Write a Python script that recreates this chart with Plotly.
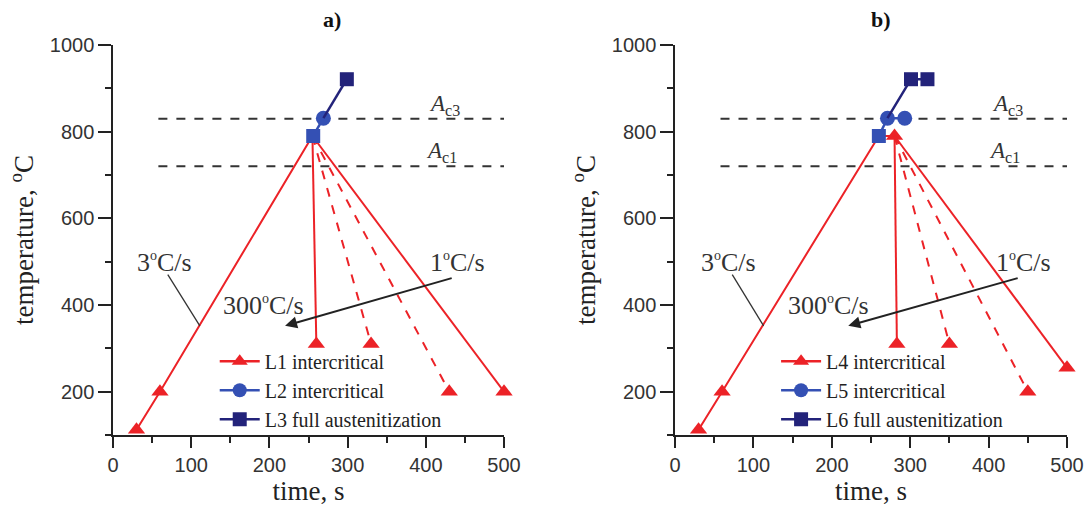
import plotly.graph_objects as go

# ---------------- data ----------------
# Panel a
heat_a_t = [30, 60, 255]
heat_a_T = [112, 200, 790]
cool_a_t0, cool_a_T0 = 255, 790
cool_a_end_t = [260, 330, 430, 500]
cool_a_end_T = [310, 310, 200, 200]
cool_a_dash = ["solid", "dash", "dash", "solid"]
L2_t = [256, 269]
L2_T = [790, 831]
L3_t = [269, 299]
L3_T = [831, 921]

# Panel b
heat_b_t = [30, 60, 260, 280]
heat_b_T = [112, 200, 790, 790]
cool_b_t0, cool_b_T0 = 280, 790
cool_b_end_t = [283, 350, 450, 500]
cool_b_end_T = [310, 310, 200, 255]
cool_b_dash = ["solid", "dash", "dash", "solid"]
L5_t = [260, 271, 293]
L5_T = [790, 831, 831]
L6_t = [271, 301, 322]
L6_T = [831, 921, 921]

Ac3 = 830
Ac1 = 720
Ac_t = [58, 500]

legend_a = ["L1 intercritical", "L2 intercritical", "L3 full austenitization"]
legend_b = ["L4 intercritical", "L5 intercritical", "L6 full austenitization"]

RED = "#ec2227"
BLUE = "#3450b4"
NAVY = "#23237a"
SERIF = "Liberation Serif"
SANS = "Liberation Sans"

fig = go.Figure()


def mk(sym, size, col):
    return dict(symbol=sym, size=size, color=col, opacity=1, line=dict(width=0))


def add_panel(xa, ya, heat_t, heat_T, c_t0, c_T0, c_end_t, c_end_T, c_dash,
              bl_t, bl_T, bl_sym, bl_size, nv_t, nv_T, nv_sym, nv_size,
              heat_sizes, heat_syms, names, legend):
    # Ac lines
    for v in (Ac3, Ac1):
        fig.add_trace(go.Scatter(x=Ac_t, y=[v, v], mode="lines", xaxis=xa, yaxis=ya,
                                 line=dict(color="#333333", width=2, dash="dash"),
                                 showlegend=False, hoverinfo="skip"))
    # heating
    fig.add_trace(go.Scatter(x=heat_t, y=heat_T, mode="lines+markers", xaxis=xa, yaxis=ya,
                             line=dict(color=RED, width=2),
                             marker=mk(heat_syms, heat_sizes, RED),
                             showlegend=False, cliponaxis=False))
    # cooling
    for t1, T1, d in zip(c_end_t, c_end_T, c_dash):
        fig.add_trace(go.Scatter(x=[c_t0, t1], y=[c_T0, T1], mode="lines+markers",
                                 xaxis=xa, yaxis=ya,
                                 line=dict(color=RED, width=2, dash=d),
                                 marker=mk("triangle-up", [0, 15], RED),
                                 showlegend=False, cliponaxis=False))
    fig.add_trace(go.Scatter(x=bl_t, y=bl_T, mode="lines+markers", xaxis=xa, yaxis=ya,
                             line=dict(color=BLUE, width=2.5),
                             marker=mk(bl_sym, bl_size, BLUE),
                             showlegend=False, cliponaxis=False))
    fig.add_trace(go.Scatter(x=nv_t, y=nv_T, mode="lines+markers", xaxis=xa, yaxis=ya,
                             line=dict(color=NAVY, width=2.5),
                             marker=mk(nv_sym, nv_size, NAVY),
                             showlegend=False, cliponaxis=False))
    # legend entries
    for name, col, sym, g in zip(names, [RED, BLUE, NAVY],
                                 ["triangle-up", "circle", "square"], ["g1", "g2", "g3"]):
        fig.add_trace(go.Scatter(x=[None], y=[None], mode="lines+markers", xaxis=xa, yaxis=ya,
                                 name=name, legend=legend, legendgroup=legend + g,
                                 line=dict(color=col, width=2.5),
                                 marker=mk(sym, 14, col)))


add_panel("x", "y", heat_a_t, heat_a_T, cool_a_t0, cool_a_T0, cool_a_end_t, cool_a_end_T,
          cool_a_dash, L2_t, L2_T, ["square", "circle"], [14, 15],
          L3_t, L3_T, ["circle", "square"], [0, 14],
          [15, 15, 0], ["triangle-up"] * 3, legend_a, "legend")
add_panel("x2", "y2", heat_b_t, heat_b_T, cool_b_t0, cool_b_T0, cool_b_end_t, cool_b_end_T,
          cool_b_dash, L5_t, L5_T, ["square", "circle", "circle"], [14, 15, 15],
          L6_t, L6_T, ["circle", "square", "square"], [0, 14, 14],
          [15, 15, 0, 15], ["triangle-up"] * 4, legend_b, "legend2")

axis_common = dict(showline=True, linecolor="#222222", linewidth=1.5, ticks="outside",
                   ticklen=11, tickwidth=1.5, tickcolor="#222222", showgrid=False,
                   zeroline=False, mirror=False, automargin=False,
                   tickfont=dict(family=SANS, size=20, color="#333333"))

xdom_a = [0.1037, 0.4624]
xdom_b = [0.6193, 0.9789]
ydom = [0.147, 0.9118]

xa = dict(axis_common, range=[0, 500], dtick=100, tick0=0,
          minor=dict(ticks="outside", ticklen=6, tickwidth=1.5, dtick=50, tickcolor="#222222"),
          title=dict(text="time, s", font=dict(family=SERIF, size=27, color="#222222"),
                     standoff=0))
ya = dict(axis_common, range=[100, 1000], tickvals=[200, 400, 600, 800, 1000],
          ticklen=13,
          minor=dict(ticks="outside", ticklen=6, tickwidth=1.5,
                     tickvals=[100, 300, 500, 700, 900], tickcolor="#222222"),
          title=dict(text="temperature, <sup>o</sup>C",
                     font=dict(family=SERIF, size=27, color="#222222"), standoff=8))

legend_style = dict(bgcolor="rgba(0,0,0,0)", font=dict(family=SERIF, size=20, color="#222222"),
                    tracegroupgap=0, itemwidth=40, traceorder="grouped",
                    xanchor="left", yanchor="top")

fig.update_layout(
    width=1090, height=510,
    margin=dict(l=0, r=0, t=0, b=0),
    plot_bgcolor="white", paper_bgcolor="white",
    xaxis=dict(xa, domain=xdom_a, anchor="y"),
    yaxis=dict(ya, domain=ydom, anchor="x"),
    xaxis2=dict(xa, domain=xdom_b, anchor="y2"),
    yaxis2=dict(ya, domain=ydom, anchor="x2"),
    legend=dict(legend_style, x=0.197, y=0.33),
    legend2=dict(legend_style, x=0.712, y=0.33),
    showlegend=True,
)

annots = []
shapes = []
SUPO = "<sup><span style='font-size:14px'>o</span></sup>"
panels = [("x", "y", "a)", 332, 66, 70, 111, 192, 440, 435, 220),
          ("x2", "y2", "b)", 881, 68, 73, 113, 196, 444, 439, 221)]
for xr, yr, ttl, tpx, t3x, l3x0, l3x1, t300x, t1x, ar0x, ar1x in panels:
    annots.append(dict(x=tpx / 1090, y=1 - 20 / 510, xref="paper", yref="paper",
                       xanchor="center", yanchor="middle",
                       text="<b>" + ttl + "</b>", showarrow=False,
                       font=dict(family=SERIF, size=22, color="#111111")))
    annots.append(dict(x=424, y=862, xref=xr, yref=yr, text="<i>A</i><sub>c3</sub>",
                       showarrow=False, font=dict(family=SERIF, size=23, color="#333333")))
    annots.append(dict(x=420, y=754, xref=xr, yref=yr, text="<i>A</i><sub>c1</sub>",
                       showarrow=False, font=dict(family=SERIF, size=23, color="#333333")))
    annots.append(dict(x=t3x, y=497, xref=xr, yref=yr,
                       text="3" + SUPO + "C/s",
                       showarrow=False, font=dict(family=SERIF, size=26, color="#333333")))
    annots.append(dict(x=t300x, y=400, xref=xr, yref=yr,
                       text="300" + SUPO + "C/s",
                       showarrow=False, font=dict(family=SERIF, size=26, color="#333333")))
    annots.append(dict(x=t1x, y=497, xref=xr, yref=yr,
                       text="1" + SUPO + "C/s",
                       showarrow=False, font=dict(family=SERIF, size=26, color="#333333")))
    annots.append(dict(x=ar1x, y=352, ax=ar0x, ay=463, xref=xr, yref=yr, axref=xr, ayref=yr,
                       text="", showarrow=True, arrowhead=2, arrowsize=1.2, arrowwidth=2,
                       arrowcolor="#222222"))
    shapes.append(dict(type="line", xref=xr, yref=yr, x0=l3x0, y0=470, x1=l3x1, y1=352,
                       line=dict(color="#333333", width=1.3)))

fig.update_layout(annotations=annots, shapes=shapes)

fig.write_html("out.html")
